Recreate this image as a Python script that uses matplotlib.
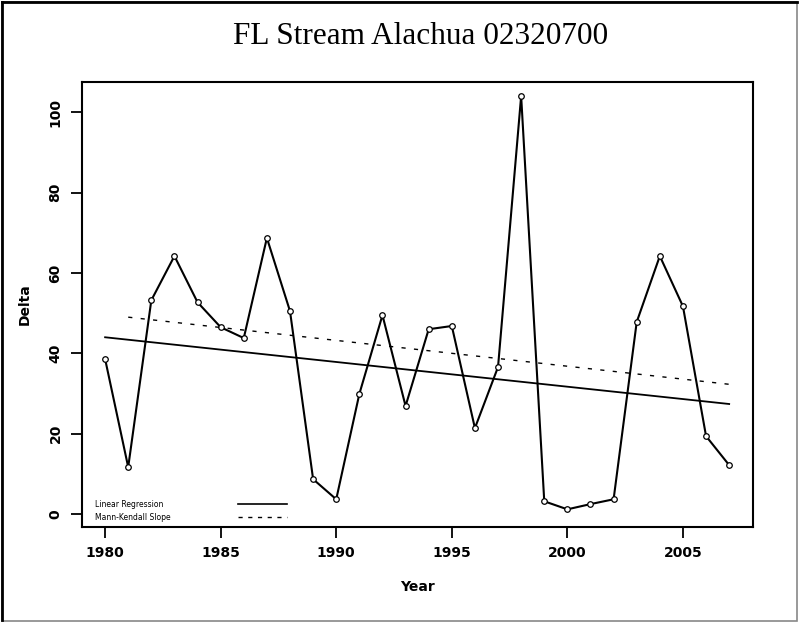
import numpy as np
import matplotlib.pyplot as plt
from matplotlib.patches import Rectangle

# Datos
anios = list(range(1980, 2008))
delta = [38.6, 11.7, 53.2, 64.2, 52.7, 46.5, 43.8, 68.7, 50.5, 8.7,
         3.7, 29.9, 49.5, 26.9, 46.0, 46.8, 21.4, 36.6, 104.0, 3.2,
         1.2, 2.5, 3.7, 47.8, 64.2, 51.7, 19.4, 12.2]

# Extremos de las rectas de tendencia
reg_anios = [1980, 2007]
reg_valores = [44.0, 27.4]
mk_anios = [1981, 2007]
mk_valores = [49.0, 32.3]

xticks = [1980, 1985, 1990, 1995, 2000, 2005]
yticks = [0, 20, 40, 60, 80, 100]

fig = plt.figure(figsize=(7.99, 6.22), dpi=100)

# Marco exterior de la imagen
fig.patches.append(Rectangle((0.002, 0.002), 0.996, 0.995, transform=fig.transFigure,
                             fill=False, edgecolor="#888888", linewidth=1.2))
fig.add_artist(plt.Line2D([0.003, 0.997], [0.997, 0.997], color="black", linewidth=2))
fig.add_artist(plt.Line2D([0.003, 0.003], [0.003, 0.997], color="black", linewidth=2))

ax = fig.add_axes([0.1026, 0.1527, 0.8398, 0.7155])

ax.plot(anios, delta, color="black", linewidth=1.5, marker="o", markersize=4,
        markerfacecolor="white", markeredgecolor="black", markeredgewidth=0.9)
ax.plot(reg_anios, reg_valores, color="black", linewidth=1.3)
ax.plot(mk_anios, mk_valores, color="black", linewidth=1.0, linestyle=(0, (3, 6)))

ax.set_xlim(1979.0, 2008.03)
ax.set_ylim(-3.2, 107.5)
ax.set_xticks(xticks)
ax.set_yticks(yticks)
ax.set_xticklabels([str(t) for t in xticks], fontsize=10, fontweight="heavy")
ax.set_yticklabels([str(t) for t in yticks], fontsize=10, fontweight="heavy",
                   rotation=90, va="center")
ax.tick_params(direction="out", length=8, width=1.3, pad=6)
for lado in ax.spines.values():
    lado.set_linewidth(1.5)

ax.set_xlabel("Year", fontsize=10, fontweight="heavy", labelpad=14)
ax.set_ylabel("Delta", fontsize=10, fontweight="heavy", labelpad=12)

# Leyenda dibujada a mano como en el original
ax.text(0.019, 0.051, "Linear Regression", transform=ax.transAxes, fontsize=5.5,
        va="center", ha="left")
ax.text(0.019, 0.022, "Mann-Kendall Slope", transform=ax.transAxes, fontsize=5.5,
        va="center", ha="left")
ax.plot([0.232, 0.305], [0.051, 0.051], transform=ax.transAxes, color="black",
        linewidth=1.2)
ax.plot([0.232, 0.305], [0.022, 0.022], transform=ax.transAxes, color="black",
        linewidth=1.0, linestyle=(0, (3, 4)))

fig.text(0.526, 0.942, "FL Stream Alachua 02320700", fontsize=22.5,
         family="Liberation Serif", ha="center", va="center")

fig.savefig("out.png", dpi=100)
